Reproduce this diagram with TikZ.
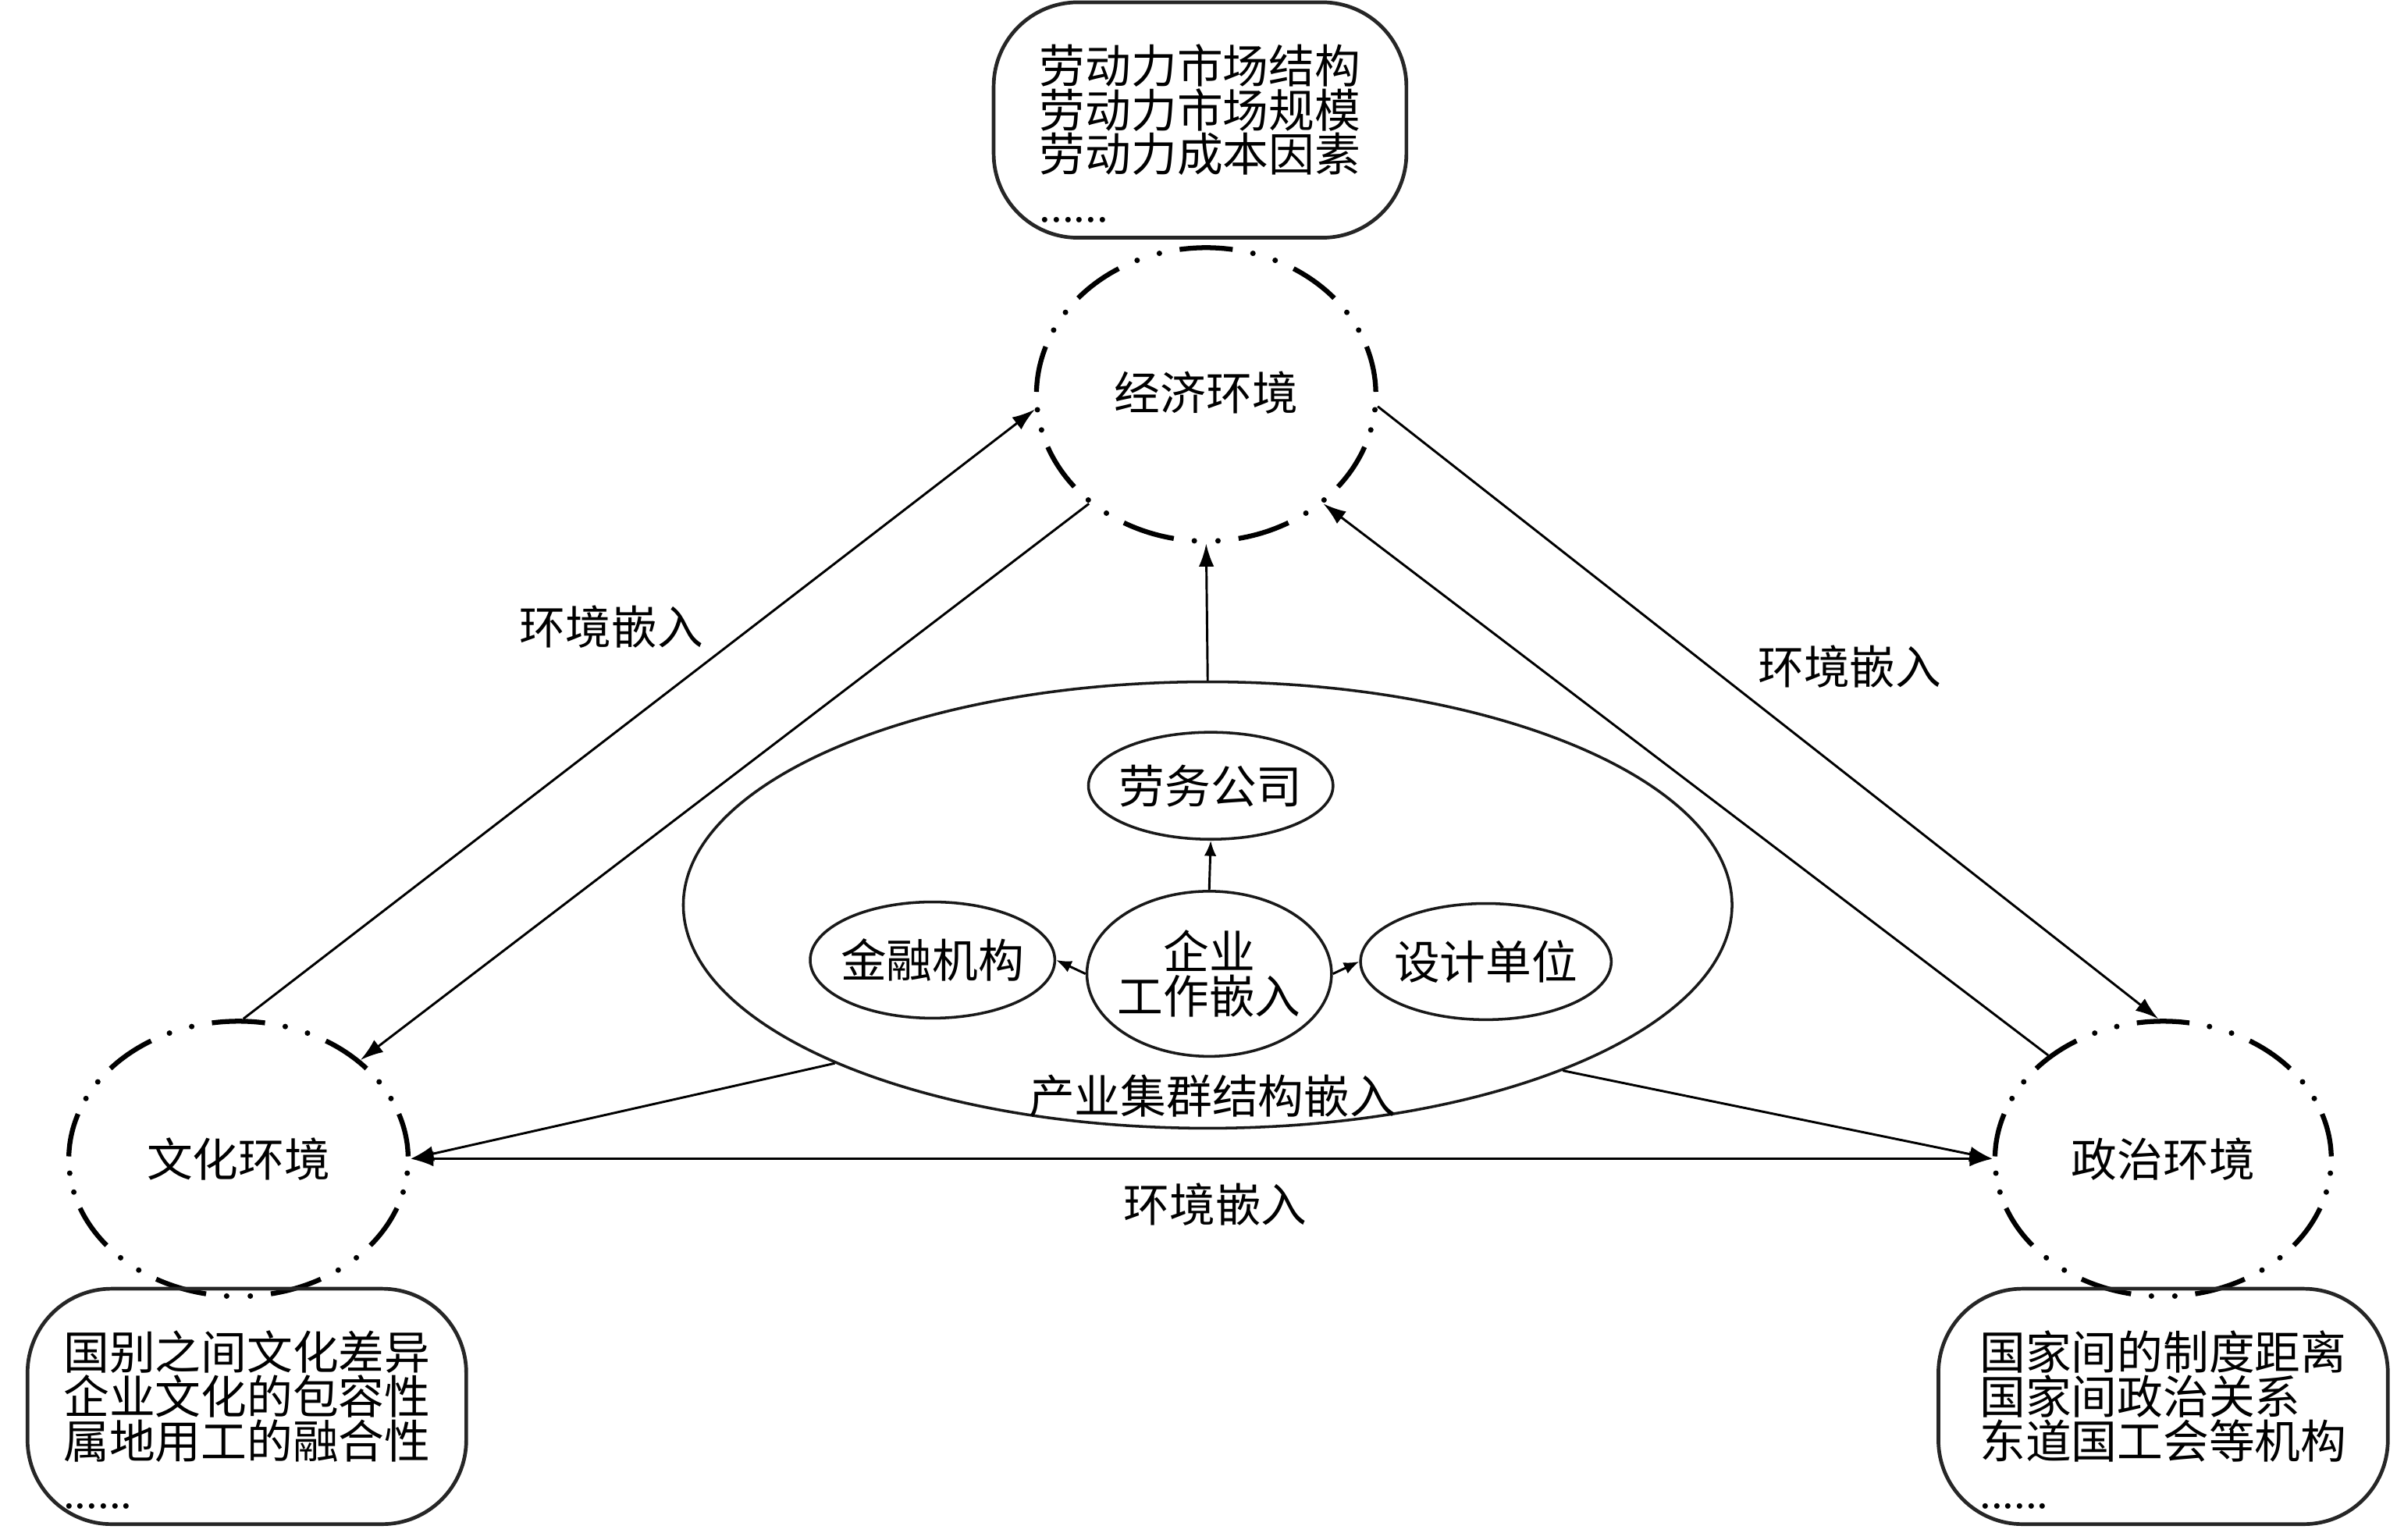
\documentclass[tikz,border=0pt]{standalone}
\usepackage{fontspec}
\newfontfamily\cjk{Noto Sans CJK SC}
\newfontfamily\dotfont{Liberation Serif}
\usetikzlibrary{shapes.geometric,arrows.meta}
\begin{document}
\begin{tikzpicture}[x=1pt,y=-1pt,
  every node/.style={font=\cjk\fontsize{30}{29}\selectfont, inner sep=0pt},
  envcirc/.style={ellipse, draw=none, outer sep=1.6pt},
  dashseg/.style={line width=3.2pt, line cap=butt},
  infobox/.style={draw=black!85, line width=2.4pt, rounded corners=55pt, align=left, minimum height=154pt},
  innerell/.style={ellipse, draw=black!90, line width=1.8pt, inner xsep=-12pt, inner ysep=0pt},
  conn/.style={line width=1.5pt, -{Latex[length=15pt,width=10pt]}},
  biconn/.style={line width=1.5pt, {Latex[length=15pt,width=10pt]}-{Latex[length=15pt,width=10pt]}},
  smallconn/.style={line width=1.5pt, -{Latex[length=10pt,width=8pt]}}
]
\useasboundingbox (0,0) rectangle (1568,1007);

% environment circles (nodes)
\node[envcirc, minimum width=222pt, minimum height=192pt] (econ) at (789,258) {\raisebox{5pt}{经济环境}};
\node[envcirc, minimum width=222pt, minimum height=180pt] (cult) at (156,758) {文化环境};
\node[envcirc, minimum width=220pt, minimum height=180pt] (poli) at (1415,758) {政治环境};

% dash-dot-dot outlines of the environment circles
\foreach \cx/\cy/\ra/\rb in {789/258/111/96, 156/758/111/90, 1415/758/110/90} {
  \foreach \k in {0,...,8} {
    \pgfmathsetmacro\ta{90+40*\k-9}
    \pgfmathsetmacro\tb{90+40*\k+9}
    \pgfmathsetmacro\tc{90+40*\k+16}
    \pgfmathsetmacro\td{90+40*\k+24}
    \draw[dashseg] plot[domain=\ta:\tb, samples=12] ({\cx+\ra*cos(\x)},{\cy-\rb*sin(\x)});
    \fill ({\cx+\ra*cos(\tc)},{\cy-\rb*sin(\tc)}) circle[radius=1.8pt];
    \fill ({\cx+\ra*cos(\td)},{\cy-\rb*sin(\td)}) circle[radius=1.8pt];
  }
}

% info boxes
\node[infobox, minimum width=270pt] (econbox) at (785,78.5)
  {\rule{0pt}{43pt}劳动力市场结构\\劳动力市场规模\\劳动力成本因素\\[4pt]{\dotfont ......}};
\node[infobox, minimum width=287pt] (cultbox) at (161.5,920)
  {\rule{0pt}{43pt}国别之间文化差异\\企业文化的包容性\\属地用工的融合性\\[4pt]{\dotfont ......}};
\node[infobox, minimum width=294pt] (polibox) at (1415,920)
  {\rule{0pt}{43pt}国家间的制度距离\\国家间政治关系\\东道国工会等机构\\[4pt]{\dotfont ......}};

% industrial cluster
\node[ellipse, draw=black!90, line width=1.8pt, minimum width=686pt, minimum height=292pt] (cluster) at (790,592) {};
\node (clusterlabel) at (793,717) {产业集群结构嵌入};

\node[innerell, minimum width=160pt, minimum height=70pt] (laowu) at (792,514) {劳务公司};
\node[innerell, minimum width=160pt, minimum height=108pt, align=center] (qiye) at (791,637) {企业\\工作嵌入};
\node[innerell, minimum width=160pt, minimum height=76pt] (jinrong) at (610,628) {金融机构};
\node[innerell, minimum width=164pt, minimum height=76pt] (sheji) at (972,629) {设计单位};

% connectors
\draw[conn] (cluster.north) -- (econ.south);
\draw[conn] (cult.88) -- (econ.185);
\draw[conn] (econ.223) -- (cult.39);
\draw[conn] (econ.356) -- (poli.92);
\draw[conn] (poli.138) -- (econ.317);
\draw[biconn] (cult.east) -- (poli.west);
\draw[conn] (cluster.203) -- (cult.east);
\draw[conn] (cluster.335) -- (poli.west);
\draw[smallconn] (qiye.north) -- (laowu.south);
\draw[smallconn] (qiye.west) -- (jinrong.east);
\draw[smallconn] (qiye.east) -- (sheji.west);

% labels
\node (lab1) at (400,410) {环境嵌入};
\node (lab2) at (1210,436) {环境嵌入};
\node (lab3) at (795,788) {环境嵌入};
\end{tikzpicture}
\end{document}
